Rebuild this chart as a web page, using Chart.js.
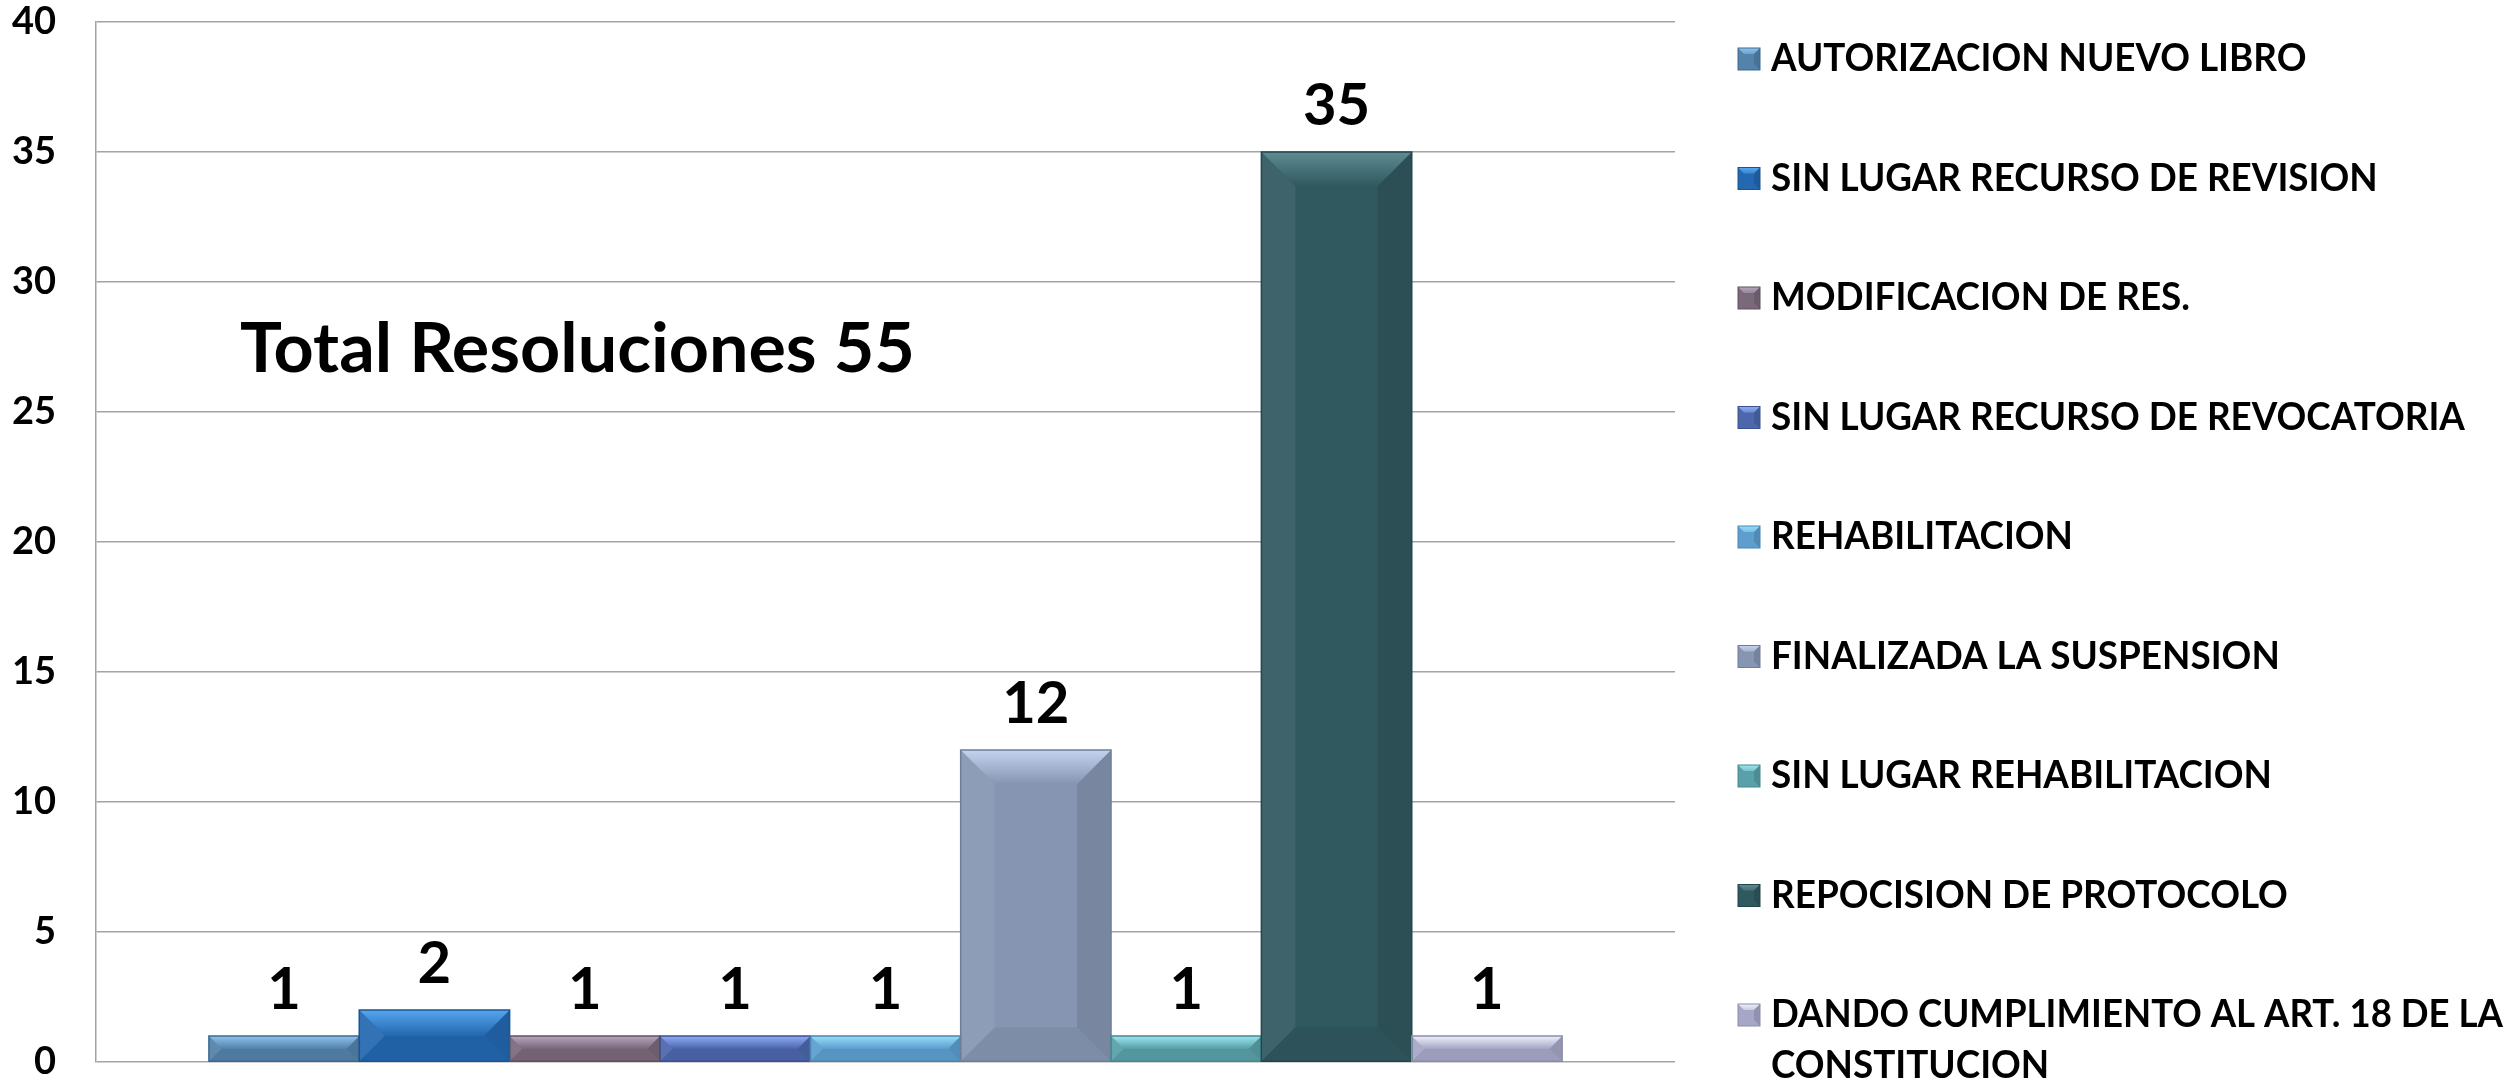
<!DOCTYPE html>
<html>
<head>
<meta charset="utf-8">
<script src="https://cdn.jsdelivr.net/npm/chart.js@4.4.1/dist/chart.umd.min.js"></script>
<style>
  html, body { margin: 0; padding: 0; background: #ffffff; }
  #wrap { width: 2509px; height: 1085px; }
</style>
</head>
<body>
<div id="wrap"><canvas id="c" width="2509" height="1085"></canvas></div>
<script>
// ---- data ----
const categories = [
  'AUTORIZACION NUEVO LIBRO',
  'SIN LUGAR RECURSO DE REVISION',
  'MODIFICACION DE RES.',
  'SIN LUGAR RECURSO DE REVOCATORIA',
  'REHABILITACION',
  'FINALIZADA LA SUSPENSION',
  'SIN LUGAR REHABILITACION',
  'REPOCISION DE PROTOCOLO',
  'DANDO CUMPLIMIENTO AL ART. 18 DE LA CONSTITUCION'
];
const values = [1, 2, 1, 1, 1, 12, 1, 35, 1];
const yTickValues = [0, 5, 10, 15, 20, 25, 30, 35, 40];
const titleText = 'Total Resoluciones 55';

// ---- styles ----
const baseColors  = ['#5382ab', '#2368b0', '#7a697b', '#4d67ad', '#5d9ecf', '#8696b2', '#59a0a8', '#30585f', '#a5a7c6'];
const lightColors = ['#8ec2ee', '#56a6f0', '#b6a6be', '#8eacf6', '#96def9', '#c4d4f0', '#9ae6f0', '#5f8b93', '#eef0fa'];
const borderColors= ['#3f6a90', '#1a5590', '#5f5060', '#3b5290', '#4a86b4', '#6e7e9a', '#468890', '#23454b', '#8a8cac'];
const FONT = "Lato, 'Open Sans', 'Liberation Sans', sans-serif";

const bevelPlugin = {
  id: 'bevel',
  afterDatasetsDraw(chart) {
    const ctx = chart.ctx;
    chart.data.datasets.forEach((ds, i) => {
      const meta = chart.getDatasetMeta(i);
      meta.data.forEach(el => {
        const L = el.x - el.width / 2, R = el.x + el.width / 2;
        const T = Math.min(el.y, el.base), B = Math.max(el.y, el.base);
        const h = B - T;
        const b = Math.min(34, h / 2, el.width / 4);
        ctx.save();
        ctx.beginPath();
        ctx.moveTo(R, T); ctx.lineTo(R, B); ctx.lineTo(R - b, B - b); ctx.lineTo(R - b, T + b); ctx.closePath();
        ctx.fillStyle = 'rgba(0,0,0,0.10)'; ctx.fill();
        ctx.beginPath();
        ctx.moveTo(L, T); ctx.lineTo(L + b, T + b); ctx.lineTo(L + b, B - b); ctx.lineTo(L, B); ctx.closePath();
        ctx.fillStyle = 'rgba(255,255,255,0.07)'; ctx.fill();
        ctx.beginPath();
        ctx.moveTo(L, B); ctx.lineTo(R, B); ctx.lineTo(R - b, B - b); ctx.lineTo(L + b, B - b); ctx.closePath();
        ctx.fillStyle = 'rgba(0,0,0,0.06)'; ctx.fill();
        const g = ctx.createLinearGradient(0, T, 0, T + b);
        g.addColorStop(0, lightColors[i]);
        g.addColorStop(1, baseColors[i]);
        ctx.beginPath();
        ctx.moveTo(L, T); ctx.lineTo(R, T); ctx.lineTo(R - b, T + b); ctx.lineTo(L + b, T + b); ctx.closePath();
        ctx.fillStyle = g; ctx.fill();
        ctx.strokeStyle = borderColors[i];
        ctx.lineWidth = 1.5;
        ctx.strokeRect(L, T, R - L, h);
        ctx.restore();
      });
    });
  }
};

const labelsPlugin = {
  id: 'valueLabels',
  afterDatasetsDraw(chart) {
    const ctx = chart.ctx;
    ctx.save();
    ctx.fillStyle = '#000';
    ctx.font = 'bold 58px ' + FONT;
    ctx.textAlign = 'center';
    ctx.textBaseline = 'alphabetic';
    chart.data.datasets.forEach((ds, i) => {
      const meta = chart.getDatasetMeta(i);
      meta.data.forEach((el, j) => {
        ctx.fillText(String(ds.data[j]), el.x, el.y - 27);
      });
    });
    ctx.restore();
  }
};

const titlePlugin = {
  id: 'innerTitle',
  afterDraw(chart) {
    const ctx = chart.ctx;
    ctx.save();
    ctx.fillStyle = '#000';
    ctx.font = 'bold 68px ' + FONT;
    ctx.textAlign = 'left';
    ctx.textBaseline = 'alphabetic';
    ctx.translate(240, 372);
    ctx.scale(1.03, 1);
    ctx.fillText(titleText, 0, 0);
    ctx.restore();
  }
};

const legendPlugin = {
  id: 'sideLegend',
  afterDraw(chart) {
    const ctx = chart.ctx;
    const x0 = chart.chartArea.right + 63;
    const textX = x0 + 33;
    const sx = 0.97;
    const maxW = chart.width - textX - 6;
    const y0 = 59, step = 119.5, lineH = 51, sq = 22;
    ctx.save();
    ctx.font = 'bold 38px ' + FONT;
    ctx.textBaseline = 'middle';
    ctx.textAlign = 'left';
    chart.data.datasets.forEach((ds, i) => {
      const yc = y0 + i * step;
      const L = x0, T = yc - sq / 2, R = x0 + sq, B = yc + sq / 2, b = 6;
      ctx.fillStyle = baseColors[i];
      ctx.fillRect(L, T, sq, sq);
      const g = ctx.createLinearGradient(0, T, 0, T + b * 2);
      g.addColorStop(0, lightColors[i]); g.addColorStop(1, baseColors[i]);
      ctx.beginPath(); ctx.moveTo(L, T); ctx.lineTo(R, T); ctx.lineTo(R - b, T + b); ctx.lineTo(L + b, T + b); ctx.closePath();
      ctx.fillStyle = g; ctx.fill();
      ctx.beginPath(); ctx.moveTo(R, T); ctx.lineTo(R, B); ctx.lineTo(R - b, B - b); ctx.lineTo(R - b, T + b); ctx.closePath();
      ctx.fillStyle = 'rgba(0,0,0,0.12)'; ctx.fill();
      ctx.strokeStyle = borderColors[i]; ctx.lineWidth = 1; ctx.strokeRect(L, T, sq, sq);
      ctx.fillStyle = '#000';
      // word wrap with tolerance; lines slightly too long are compressed to fit
      const words = ds.label.split(' ');
      const lines = []; let cur = '';
      words.forEach(w => {
        const test = cur ? cur + ' ' + w : w;
        if (ctx.measureText(test).width * sx > maxW * 1.08 && cur) { lines.push(cur); cur = w; } else { cur = test; }
      });
      if (cur) lines.push(cur);
      lines.forEach((ln, k) => {
        const w = ctx.measureText(ln).width;
        const s = Math.min(sx, maxW / w);
        ctx.save();
        ctx.translate(textX, yc + k * lineH);
        ctx.scale(s, 1);
        ctx.fillText(ln, 0, 0);
        ctx.restore();
      });
    });
    ctx.restore();
  }
};

new Chart(document.getElementById('c'), {
  type: 'bar',
  data: {
    labels: [''],
    datasets: categories.map((c, i) => ({
      label: c,
      data: [values[i]],
      backgroundColor: baseColors[i],
      borderWidth: 0,
      categoryPercentage: 0.857,
      barPercentage: 1.0
    }))
  },
  options: {
    responsive: false,
    animation: false,
    devicePixelRatio: 1,
    layout: { padding: { top: 22, right: 834, bottom: 23, left: 0 } },
    plugins: { legend: { display: false }, tooltip: { enabled: false }, title: { display: false } },
    scales: {
      x: { display: false },
      y: {
        min: 0, max: 40,
        afterBuildTicks: s => { s.ticks = yTickValues.map(v => ({ value: v })); },
        afterFit: s => { s.width = 96; s.paddingTop = 0; s.paddingBottom = 0; },
        ticks: { color: '#000', font: { family: FONT, weight: 'bold', size: 38 }, padding: 40 },
        grid: { color: '#a3a3a3', lineWidth: 1.5, drawTicks: false },
        border: { display: true, color: '#a3a3a3', width: 1.5 }
      }
    }
  },
  plugins: [bevelPlugin, labelsPlugin, titlePlugin, legendPlugin]
});
</script>
</body>
</html>
